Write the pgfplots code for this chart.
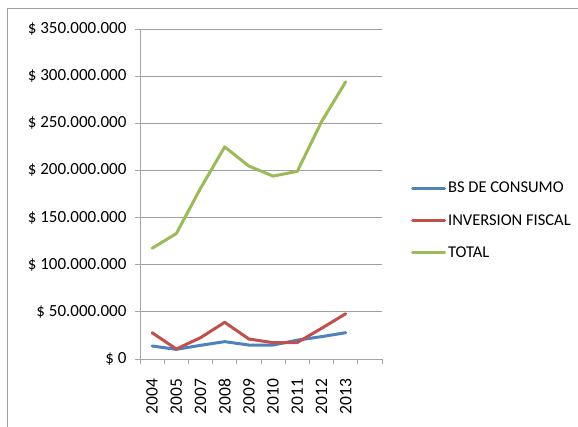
\documentclass[border=0pt]{standalone}
\usepackage{pgfplots}
\pgfplotsset{compat=1.18}
\usepackage{fontspec}
\setmainfont{Carlito}
\definecolor{xblue}{HTML}{4F81BD}
\definecolor{xred}{HTML}{C0504D}
\definecolor{xgreen}{HTML}{9BBB59}
\begin{document}
\begin{tikzpicture}[x=1pt,y=1pt]
\path[use as bounding box] (0,0) rectangle (578,-427);
\draw[gray!75, line width=1.5pt] (7.5,-427) -- (7.5,-8.5) -- (578,-8.5);
\begin{axis}[
  anchor=south west, at={(140pt,-359pt)},
  scale only axis, width=242pt, height=330pt,
  xmin=-0.5, xmax=9.5, ymin=0, ymax=350000000,
  axis x line*=bottom, axis y line*=left,
  axis line style={gray!70, line width=0.8pt, -},
  xtick={0,...,8},
  xticklabels={2004,2005,2007,2008,2009,2010,2011,2012,2013},
  major x tick style={draw=none},
  minor xtick={-0.5,0.5,...,9.5},
  minor x tick style={gray!70, line width=0.8pt},
  minor tick length=5pt,
  x tick label style={rotate=90, anchor=east, font=\fontsize{17.5}{19}\selectfont},
  xticklabel shift=11pt,
  ytick={0,50000000,...,350000000},
  yticklabels={\$ 0,\$ 50.000.000,\$ 100.000.000,\$ 150.000.000,\$ 200.000.000,\$ 250.000.000,\$ 300.000.000,\$ 350.000.000},
  y tick label style={font=\fontsize{17}{19}\selectfont},
  yticklabel shift=5pt,
  major y tick style={gray!70, line width=0.8pt},
  major tick length=5pt,
  tick align=outside,
  ymajorgrids, grid style={gray!75, line width=0.8pt},
  scaled y ticks=false,
  /pgf/number format/assume math mode=true,
  legend style={at={(1.107,0.42)}, anchor=west, draw=none, fill=none,
    font=\fontsize{16.5}{18}\selectfont, row sep=16pt,
    /tikz/every even column/.append style={column sep=0pt}},
  legend cell align=left,
  legend image code/.code={\draw[#1] (0pt,0pt) -- (32pt,0pt);},
  every axis plot/.append style={line width=3pt, line join=round, line cap=round},
]
\addplot[xblue] coordinates {
  (0,13800000) (1,10200000) (2,14500000) (3,18400000) (4,14800000)
  (5,14800000) (6,20000000) (7,23700000) (8,27900000)};
\addlegendentry{BS DE CONSUMO}
\addplot[xred] coordinates {
  (0,27900000) (1,10600000) (2,22600000) (3,38900000) (4,21200000)
  (5,17300000) (6,17500000) (7,32500000) (8,48000000)};
\addlegendentry{INVERSION FISCAL}
\addplot[xgreen] coordinates {
  (0,117400000) (1,133000000) (2,181000000) (3,225000000) (4,204600000)
  (5,194000000) (6,199000000) (7,251600000) (8,294000000)};
\addlegendentry{TOTAL}
\end{axis}
\end{tikzpicture}
\end{document}
